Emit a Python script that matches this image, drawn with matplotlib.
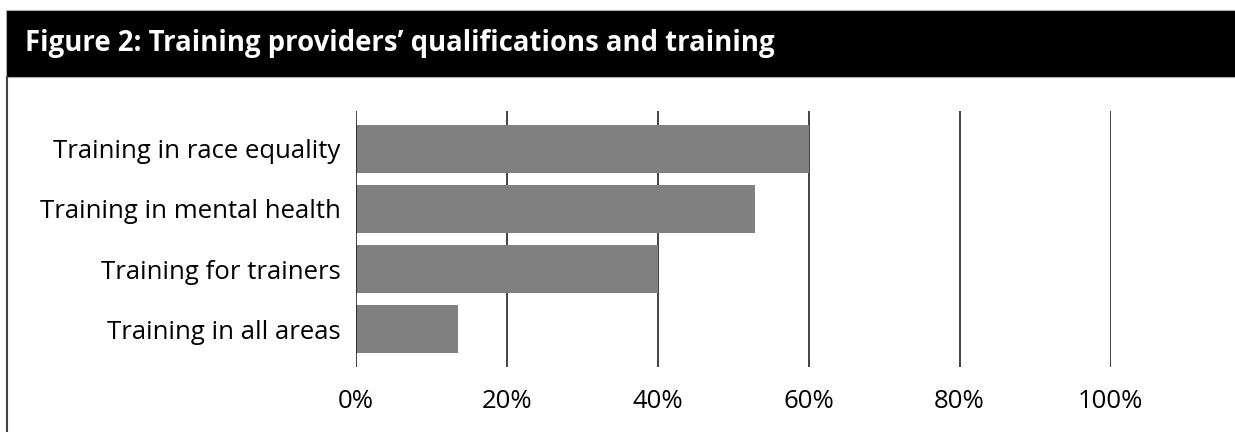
import matplotlib.pyplot as plt
from matplotlib.patches import Rectangle
from matplotlib.lines import Line2D

# data
categories = ["Training in race equality", "Training in mental health",
              "Training for trainers", "Training in all areas"]
values = [60, 52.9, 40, 13.5]
ticks = [0, 20, 40, 60, 80, 100]
tick_labels = ["0%", "20%", "40%", "60%", "80%", "100%"]

W, H = 1235, 432
fig = plt.figure(figsize=(W / 100, H / 100), dpi=100)
plt.rcParams['font.family'] = ['Open Sans', 'DejaVu Sans']

# header bar
fig.patches.append(Rectangle((6 / W, 1 - 77 / H), 1, 67 / H, transform=fig.transFigure,
                             facecolor="black", edgecolor="#aaaaaa", linewidth=0.8))
fig.text(25 / W, 1 - 44 / H, "Figure 2: Training providers\u2019 qualifications and training",
         color="white", fontsize=19.8, fontweight="bold", va="center", ha="left")
# left border
fig.lines.append(Line2D([7 / W, 7 / W], [0, 1 - 77 / H], transform=fig.transFigure,
                        color="#444444", linewidth=1.5))

ax = fig.add_axes([356 / W, 1 - 367 / H, 754.5 / W, 256 / H])
y = range(len(categories))
ax.barh(y, values, height=0.8, color="#808080", zorder=2)
ax.set_xlim(0, 100)
ax.set_ylim(len(categories) - 1 + 0.633, -0.633)
for t in ticks:
    ax.axvline(t, color="#222222", linewidth=1.2, zorder=1 if t else 3)
ax.set_xticks(ticks)
ax.set_xticklabels(tick_labels, fontsize=18.5)
ax.set_yticks(list(y))
ax.set_yticklabels(categories, fontsize=18.5)
ax.tick_params(axis="both", length=0, colors="black")
ax.tick_params(axis="x", pad=16)
ax.tick_params(axis="y", pad=11)
for s in ax.spines.values():
    s.set_visible(False)

fig.savefig("out.png", dpi=100)
